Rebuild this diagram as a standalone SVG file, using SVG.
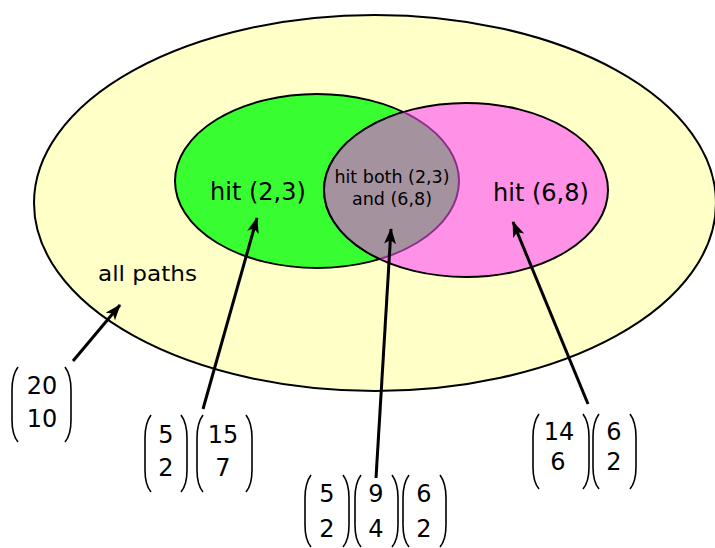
<svg xmlns="http://www.w3.org/2000/svg" width="715" height="548" viewBox="0 0 715 548">
<style>
text{font-family:"DejaVu Sans","Liberation Sans",sans-serif;fill:#000}
.big{font-size:24px}
.mid{font-size:21px}
.sm{font-size:17.5px}
.num{font-size:24px;text-anchor:middle}
.par{fill:none;stroke:#000;stroke-width:1.6}
.conn{stroke:#000;stroke-width:3;fill:none;marker-end:url(#ah)}
</style>
<defs>
<marker id="ah" markerUnits="userSpaceOnUse" markerWidth="16" markerHeight="12" refX="15" refY="6" orient="auto">
<path d="M0,0 L16,6 L0,12 L4,6 z" fill="#000"/>
</marker>
<clipPath id="cpPink"><ellipse cx="466" cy="190" rx="142" ry="87"/></clipPath>
<clipPath id="cpGreen"><ellipse cx="317" cy="181" rx="142" ry="87"/></clipPath>
</defs>
<rect width="715" height="548" fill="#fff"/>
<g id="all-paths">
<ellipse cx="375" cy="203" rx="341" ry="188" fill="#ffffc8" stroke="#000" stroke-width="2"/>
<text class="mid" x="98" y="281" textLength="99" lengthAdjust="spacingAndGlyphs">all paths</text>
</g>
<g id="hit23">
<ellipse cx="317" cy="181" rx="142" ry="87" fill="#38fd30" stroke="#000" stroke-width="2"/>
<text class="big" x="210" y="200">hit (2,3)</text>
</g>
<g id="hit68">
<ellipse cx="466" cy="190" rx="142" ry="87" fill="#ff91e6" stroke="#000" stroke-width="2"/>
<text class="big" x="493" y="201">hit (6,8)</text>
</g>
<g id="hitboth">
<ellipse cx="317" cy="181" rx="142" ry="87" fill="#a4939f" stroke="#8b2f8b" stroke-width="2" clip-path="url(#cpPink)"/>
<ellipse cx="466" cy="190" rx="142" ry="87" fill="none" stroke="#000" stroke-width="2" clip-path="url(#cpGreen)"/>
<text class="sm" x="392" y="183" text-anchor="middle">hit both (2,3)</text>
<text class="sm" x="392" y="205" text-anchor="middle">and (6,8)</text>
</g>
<g id="connectors">
<line class="conn" x1="73" y1="361" x2="120" y2="305"/>
<line class="conn" x1="203" y1="409" x2="257" y2="218"/>
<line class="conn" x1="376" y1="478" x2="391" y2="229"/>
<line class="conn" x1="588" y1="404" x2="513" y2="222"/>
</g>
<g id="count-all">
<path class="par" d="M18,367 Q12,375 12,390 L12,420 Q12,435 18,442"/>
<text class="num" x="42" y="394">20</text>
<text class="num" x="42" y="427">10</text>
<path class="par" d="M65,367 Q71,375 71,390 L71,420 Q71,435 65,442"/>
</g>
<g id="count-23">
<path class="par" d="M151,415 Q145,423 145,438 L145,470 Q145,485 151,492"/>
<text class="num" x="166" y="443">5</text>
<text class="num" x="166" y="476">2</text>
<path class="par" d="M181,415 Q187,423 187,438 L187,470 Q187,485 181,492"/>
<path class="par" d="M203,415 Q197,423 197,438 L197,470 Q197,485 203,492"/>
<text class="num" x="223" y="443">15</text>
<text class="num" x="223" y="476">7</text>
<path class="par" d="M246,415 Q252,423 252,438 L252,470 Q252,485 246,492"/>
</g>
<g id="count-both">
<path class="par" d="M311,475 Q305,483 305,498 L305,525 Q305,540 311,547"/>
<text class="num" x="327" y="502">5</text>
<text class="num" x="327" y="537">2</text>
<path class="par" d="M343,475 Q349,483 349,498 L349,525 Q349,540 343,547"/>
<path class="par" d="M361,475 Q355,483 355,498 L355,525 Q355,540 361,547"/>
<text class="num" x="376" y="502">9</text>
<text class="num" x="376" y="537">4</text>
<path class="par" d="M392,475 Q398,483 398,498 L398,525 Q398,540 392,547"/>
<path class="par" d="M409,475 Q403,483 403,498 L403,525 Q403,540 409,547"/>
<text class="num" x="424" y="502">6</text>
<text class="num" x="424" y="537">2</text>
<path class="par" d="M440,475 Q446,483 446,498 L446,525 Q446,540 440,547"/>
</g>
<g id="count-68">
<path class="par" d="M539,414 Q533,422 533,437 L533,467 Q533,482 539,489"/>
<text class="num" x="559" y="440">14</text>
<text class="num" x="558" y="470">6</text>
<path class="par" d="M583,414 Q589,422 589,437 L589,467 Q589,482 583,489"/>
<path class="par" d="M599,414 Q593,422 593,437 L593,467 Q593,482 599,489"/>
<text class="num" x="614" y="440">6</text>
<text class="num" x="614" y="470">2</text>
<path class="par" d="M630,414 Q636,422 636,437 L636,467 Q636,482 630,489"/>
</g>
</svg>
